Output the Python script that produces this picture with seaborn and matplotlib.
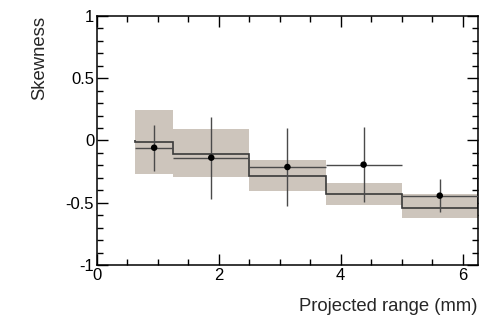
import matplotlib
matplotlib.use("Agg")
import matplotlib.pyplot as plt
from matplotlib.ticker import MultipleLocator
import seaborn as sns
import numpy as np
import pandas as pd

# bin edges (mm) and model band
bin_edges = [0.625, 1.25, 2.5, 3.75, 5.0, 6.25]
model_mean = [-0.014, -0.108, -0.287, -0.430, -0.542]
band_hi = [0.245, 0.090, -0.159, -0.341, -0.432]
band_lo = [-0.270, -0.296, -0.408, -0.515, -0.622]

# measured points
meas_x = [0.9375, 1.875, 3.125, 4.375, 5.625]
meas_y = [-0.058, -0.138, -0.213, -0.194, -0.443]
meas_err = [0.185, 0.330, 0.313, 0.300, 0.135]

sns.set_theme(style="ticks")
plt.rcParams['font.family'] = ['Liberation Sans', 'DejaVu Sans']

fig = plt.figure(figsize=(4.91, 3.33), dpi=100)
ax = fig.add_axes([0.1976, 0.2042, 0.7756, 0.7478])

edges = np.array(bin_edges)
widths = np.diff(edges)
lo = np.array(band_lo)
hi = np.array(band_hi)

# shaded band
ax.bar(edges[:-1], hi - lo, width=widths, bottom=lo, align='edge',
       color='#cdc5bc', edgecolor='none', zorder=1)

# model step line
ax.stairs(model_mean, edges, color='#3a3a3a', lw=1.2, zorder=2)

# data with error bars (x bar = bin width)
ax.errorbar(meas_x, meas_y, yerr=meas_err, xerr=widths / 2, fmt='none',
            ecolor='#4a4a4a', elinewidth=1.0, capsize=0, zorder=3)
df = pd.DataFrame({"x": meas_x, "y": meas_y})
sns.scatterplot(data=df, x="x", y="y", ax=ax, color='black', s=22,
                edgecolor='none', zorder=4, legend=False)

ax.set_xlim(0, 6.25)
ax.set_ylim(-1, 1)
ax.xaxis.set_minor_locator(MultipleLocator(0.5))
ax.yaxis.set_minor_locator(MultipleLocator(0.1))
ax.set_yticks([-1, -0.5, 0, 0.5, 1])
ax.set_yticklabels(['-1', '-0.5', '0', '0.5', '1'])
ax.set_xticks([0, 2, 4, 6])
ax.set_xticklabels(['0', '2', '4', '6'])

ax.tick_params(which='both', direction='in', top=True, right=True,
               color='black', labelsize=12, labelcolor='black')
ax.tick_params(which='major', length=8, width=1)
ax.tick_params(which='minor', length=4, width=1)
ax.tick_params(axis='y', which='major', pad=2)
ax.tick_params(axis='x', which='major', pad=2)
for s in ax.spines.values():
    s.set_linewidth(1.1)
    s.set_color('black')

ax.set_xlabel('')
ax.set_ylabel('')
fig.text(0.9735, 0.065, 'Projected range (mm)', ha='right', va='baseline',
         fontsize=13.3)
fig.text(0.08, 0.952, 'Skewness', rotation=90, ha='center', va='top',
         fontsize=13.3)

fig.savefig('out.png', dpi=100)
